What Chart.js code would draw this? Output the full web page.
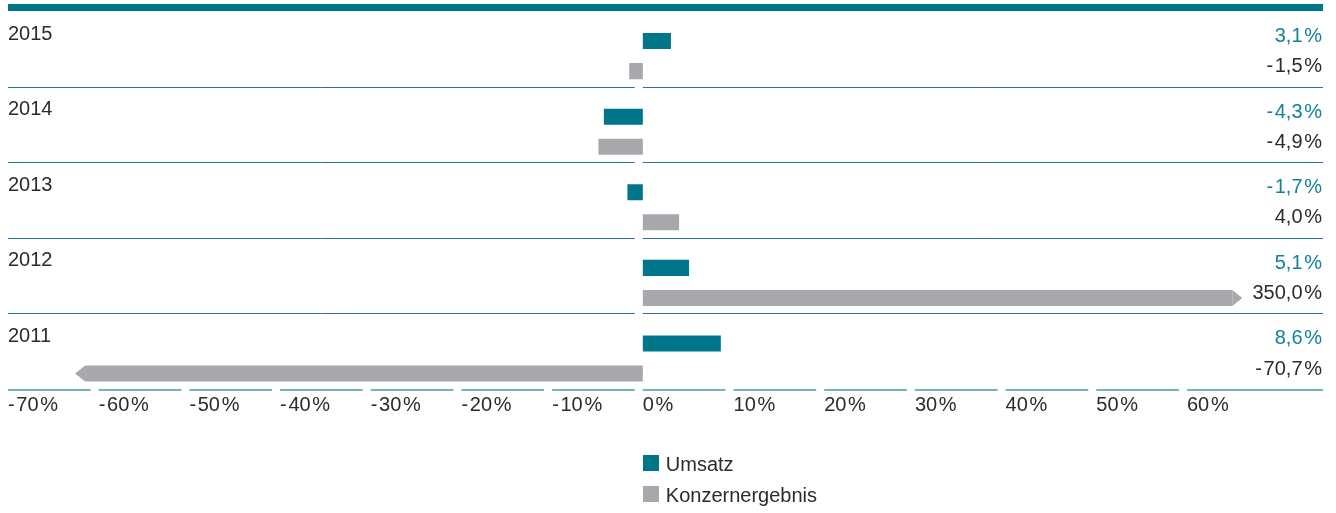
<!DOCTYPE html>
<html lang="de">
<head>
<meta charset="utf-8">
<title>Umsatz und Konzernergebnis</title>
<script src="https://cdn.jsdelivr.net/npm/chart.js@4.4.1/dist/chart.umd.min.js"></script>
<style>
    html, body { margin: 0; padding: 0; background: #fff; }
    .chart-wrap { position: relative; width: 1336px; height: 513px; }
    .chart-legend { position: absolute; top: 455px; left: 643px; }
    .chart-legend-list { list-style: none; margin: 0; padding: 0; }
    .chart-legend-li {
        display: flex; align-items: center; height: 16px; margin-bottom: 15px;
        font: 20px 'Liberation Sans', Arial, sans-serif; color: #2b2b2b; white-space: nowrap;
    }
    .chart-legend-box { width: 16px; height: 16px; margin-right: 7px; background: var(--color); }
    .chart-legend-text { position: relative; top: 1px; }
</style>
</head>
<body>
<div class="chart-wrap">
    <canvas id="growth-chart"></canvas>
    <div class="chart-legend" id="legend-container"></div>
</div>
<script>
const years = ['2015', '2014', '2013', '2012', '2011'];
const umsatz = [3.1, -4.3, -1.7, 5.1, 8.6];
const konzernergebnis = [-1.5, -4.9, 4.0, 350.0, -70.7];
const xTicks = [-70, -60, -50, -40, -30, -20, -10, 0, 10, 20, 30, 40, 50, 60];

const X_MIN = -70, X_MAX = 75;
// bars that run off the scale stop here and get an arrow tip
const CAP_LOW = -61.5, CAP_HIGH = 65;
const SEP_SHIFT = 7.3;

const TEAL = '#00768b',
    GREY = '#a7a8ab',
    TEXT = '#2b2b2b',
    TEAL_TEXT = '#13819a',
    FONT = "'Liberation Sans', Arial, sans-serif";

function fmt(v, digits) {
    const s = Math.abs(v).toFixed(digits).replace('.', ',');
    return (v < 0 ? '-\u200a' : '') + s + '\u200a%';
}

function clampValues(arr) {
    return arr.map(v => Math.max(CAP_LOW, Math.min(CAP_HIGH, v)));
}

const data = {
    labels: years,
    datasets: [
        {
            label: 'Umsatz',
            data: clampValues(umsatz),
            realData: umsatz,
            backgroundColor: TEAL,
            labelColor: TEAL_TEXT,
        },
        {
            label: 'Konzernergebnis',
            data: clampValues(konzernergebnis),
            realData: konzernergebnis,
            backgroundColor: GREY,
            labelColor: TEXT,
        },
    ]
};

const frameLinesPlugin = {
    id: 'frameLines',
    beforeDatasetsDraw(chart) {
        const {ctx, chartArea: area, scales: {x, y}} = chart;
        const step = y.getPixelForValue(1) - y.getPixelForValue(0);
        const zero = x.getPixelForValue(0);
        const sepY = i => y.getPixelForValue(i) - step / 2 - SEP_SHIFT;

        ctx.save();

        // breiter Balken oben
        ctx.fillStyle = TEAL;
        ctx.fillRect(area.left, sepY(0) - 7, area.right - area.left, 7);

        // Trennlinien zwischen den Jahren
        ctx.strokeStyle = '#23798c';
        ctx.lineWidth = 1;
        for (let i = 1; i < years.length; i++) {
            const yy = Math.round(sepY(i)) + 0.5;
            ctx.beginPath();
            ctx.moveTo(area.left, yy);
            ctx.lineTo(zero - 8, yy);
            ctx.moveTo(zero, yy);
            ctx.lineTo(area.right, yy);
            ctx.stroke();
        }

        // Achse unten, in Stücken
        const yAxis = Math.round(sepY(years.length)) + 1;
        ctx.strokeStyle = '#74b4bc';
        ctx.lineWidth = 2;
        xTicks.forEach((v, i) => {
            const x0 = x.getPixelForValue(v);
            const x1 = i < xTicks.length - 1 ? x.getPixelForValue(xTicks[i + 1]) - 8 : area.right;
            ctx.beginPath();
            ctx.moveTo(x0, yAxis);
            ctx.lineTo(x1, yAxis);
            ctx.stroke();
        });

        ctx.restore();
    }
};

const valueLabelsPlugin = {
    id: 'valueLabels',
    afterDatasetsDraw(chart) {
        const {ctx, chartArea: area} = chart;
        ctx.save();
        ctx.font = '20px ' + FONT;
        ctx.textAlign = 'right';
        ctx.textBaseline = 'alphabetic';

        chart.data.datasets.forEach((ds, di) => {
            chart.getDatasetMeta(di).data.forEach((bar, i) => {
                const value = ds.realData[i];

                if (value > CAP_HIGH || value < CAP_LOW) {
                    const dir = value > 0 ? 1 : -1;
                    const h = bar.height / 2;
                    ctx.fillStyle = ds.backgroundColor;
                    ctx.beginPath();
                    ctx.moveTo(bar.x, bar.y - h);
                    ctx.lineTo(bar.x + dir * 10, bar.y);
                    ctx.lineTo(bar.x, bar.y + h);
                    ctx.closePath();
                    ctx.fill();
                }

                ctx.fillStyle = ds.labelColor;
                ctx.fillText(fmt(value, 1), area.right - 1, bar.y + 1);
            });
        });
        ctx.restore();
    }
};

const htmlLegendPlugin = {
    id: 'htmlLegend',
    afterUpdate(chart, args, options) {
        const container = document.getElementById(options.containerID);
        container.style.left = chart.scales.x.getPixelForValue(0) + 'px';

        let ul = container.querySelector('ul');
        if (!ul) {
            ul = document.createElement('ul');
            ul.classList.add('chart-legend-list');
            container.appendChild(ul);
        }
        while (ul.firstChild) {
            ul.firstChild.remove();
        }

        chart.data.datasets.forEach(ds => {
            const li = document.createElement('li');
            li.classList.add('chart-legend-li');

            const boxSpan = document.createElement('span');
            boxSpan.classList.add('chart-legend-box');
            boxSpan.style.setProperty('--color', ds.backgroundColor);

            const textContainer = document.createElement('span');
            textContainer.classList.add('chart-legend-text');
            textContainer.appendChild(document.createTextNode(ds.label));

            li.appendChild(boxSpan);
            li.appendChild(textContainer);
            ul.appendChild(li);
        });
    }
};

const ctx = document.querySelector('#growth-chart');

try {
    new Chart(ctx.getContext('2d'), {
        type: 'bar',
        data: data,
        options: {
            indexAxis: 'y',
            responsive: true,
            maintainAspectRatio: false,
            animation: false,
            events: [],
            layout: {
                padding: { top: 18.3, left: 8, right: 13, bottom: 98.7 }
            },
            datasets: {
                bar: {
                    categoryPercentage: 0.7958,
                    barPercentage: 0.5333,
                    borderWidth: 0,
                }
            },
            scales: {
                x: {
                    min: X_MIN,
                    max: X_MAX,
                    grid: { display: false, drawTicks: false },
                    border: { display: false },
                    ticks: {
                        stepSize: 10,
                        autoSkip: false,
                        maxRotation: 0,
                        align: 'start',
                        padding: -1,
                        color: TEXT,
                        font: { family: FONT, size: 20, lineHeight: 1 },
                        callback: v => xTicks.includes(v) ? fmt(v, 0) : '',
                    }
                },
                y: {
                    grid: { display: false, drawTicks: false },
                    border: { display: false },
                    ticks: {
                        mirror: true,
                        padding: 0,
                        labelOffset: -22,
                        color: TEXT,
                        font: { family: FONT, size: 20 },
                    }
                },
            },
            plugins: {
                htmlLegend: { containerID: 'legend-container' },
                legend: { display: false },
                tooltip: { enabled: false },
            }
        },
        plugins: [frameLinesPlugin, valueLabelsPlugin, htmlLegendPlugin]
    });
} catch (e) {
    console.error(e);
}
</script>
</body>
</html>
